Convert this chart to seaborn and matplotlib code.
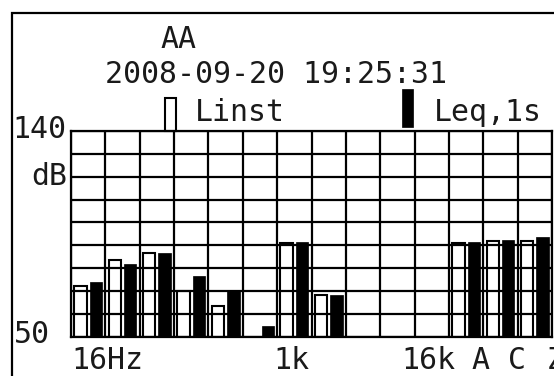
import numpy as np
import pandas as pd
import matplotlib
matplotlib.use("Agg")
import matplotlib.pyplot as plt
import matplotlib.patches as mpatches
import matplotlib.transforms as mtrans
import seaborn as sns

# ---- data ----
bands = ['16', '31.5', '63', '125', '250', '500', '1k', '2k', '4k', '8k', '16k', 'A', 'C', 'Z']
linst = [72.3, 83.6, 86.5, 70.1, 63.4, np.nan, 91.1, 68.2, np.nan, np.nan, np.nan, 91.1, 92.0, 92.0]
leq = [73.8, 81.7, 86.5, 76.6, 70.4, 54.7, 91.3, 68.4, np.nan, np.nan, np.nan, 91.4, 92.3, 93.5]
series_names = ['Linst', 'Leq,1s']
band_labels = ['16Hz', '1k', '16k', 'A', 'C', 'Z']
band_label_pos = [-0.48, 5.39, 9.12, 11.16, 12.23, 13.34]
y_min, y_max = 50, 140
title_name = 'AA'
timestamp = '2008-09-20 19:25:31'

rows = []
for b, v1, v2 in zip(bands, linst, leq):
    if not np.isnan(v1):
        rows.append((b, series_names[0], v1))
    if not np.isnan(v2):
        rows.append((b, series_names[1], v2))
df = pd.DataFrame(rows, columns=['band', 'series', 'value'])

sns.set_theme(style='white')
plt.rcParams['font.family'] = ['DejaVu Sans Mono', 'DejaVu Sans']

W, H = 554, 376
fig = plt.figure(figsize=(W / 100, H / 100), dpi=100)
fig.patch.set_facecolor('white')


def fx(px):
    return px / W


def fy(py):
    return 1 - py / H


ax = fig.add_axes([fx(71), fy(336.7), fx(552) - fx(71), fy(131) - fy(336.7)])

sns.barplot(data=df, x='band', y='value', hue='series', order=bands,
            hue_order=series_names, width=0.9, gap=0.2, dodge=True,
            errorbar=None, legend=False, ax=ax, saturation=1,
            palette=['white', 'black'])

for bar in ax.containers[0]:
    bar.set_facecolor('none')
    bar.set_edgecolor('black')
    bar.set_linewidth(1.5)
for bar in ax.containers[1]:
    bar.set_facecolor('black')
    bar.set_edgecolor('black')
    bar.set_linewidth(0.5)

ax.set_xlim(-0.5, len(bands) - 0.5)
ax.set_ylim(y_min, y_max)
ax.set_xticks(np.arange(-0.5, len(bands), 1))
ax.set_yticks(np.arange(y_min, y_max + 1, 10))
ax.set_xticklabels([])
ax.set_yticklabels([])
ax.tick_params(length=0)
ax.grid(True, color='black', linewidth=1.6)
ax.set_axisbelow(True)
ax.set_xlabel('')
ax.set_ylabel('')
for s in ax.spines.values():
    s.set_visible(True)
    s.set_color('black')
    s.set_linewidth(1.6)

fs = 21.5
tc = '#1a1a1a'
trans = mtrans.blended_transform_factory(ax.transData, fig.transFigure)
for lab, xp in zip(band_labels, band_label_pos):
    ax.text(xp, fy(369), lab, transform=trans, ha='left', va='baseline',
            fontsize=fs, color=tc)

fig.text(fx(66), fy(138), '140', ha='right', va='baseline', fontsize=fs, color=tc)
fig.text(fx(67), fy(185), 'dB', ha='right', va='baseline', fontsize=fs, color=tc)
fig.text(fx(50), fy(343), '50', ha='right', va='baseline', fontsize=fs, color=tc)

fig.text(fx(160), fy(48), title_name, ha='left', va='baseline', fontsize=fs, color=tc)
fig.text(fx(105), fy(83), timestamp, ha='left', va='baseline', fontsize=fs, color=tc)
fig.text(fx(195), fy(121), series_names[0], ha='left', va='baseline', fontsize=fs, color=tc)
fig.text(fx(434), fy(121), series_names[1], ha='left', va='baseline', fontsize=fs, color=tc)

# legend markers
fig.patches.append(mpatches.Rectangle((fx(165), fy(131)), fx(176) - fx(165), fy(98) - fy(131),
                                      transform=fig.transFigure, facecolor='none',
                                      edgecolor='black', linewidth=1.5))
fig.patches.append(mpatches.Rectangle((fx(402), fy(127)), fx(413) - fx(402), fy(89) - fy(127),
                                      transform=fig.transFigure, facecolor='black',
                                      edgecolor='black', linewidth=0.5))

# outer display frame (runs off the right and bottom edges)
fig.patches.append(mpatches.Rectangle((fx(11.5), -0.2), 1.2, fy(13) + 0.2,
                                      transform=fig.transFigure, facecolor='none',
                                      edgecolor='black', linewidth=1.6))

fig.savefig('out.png', dpi=100)
